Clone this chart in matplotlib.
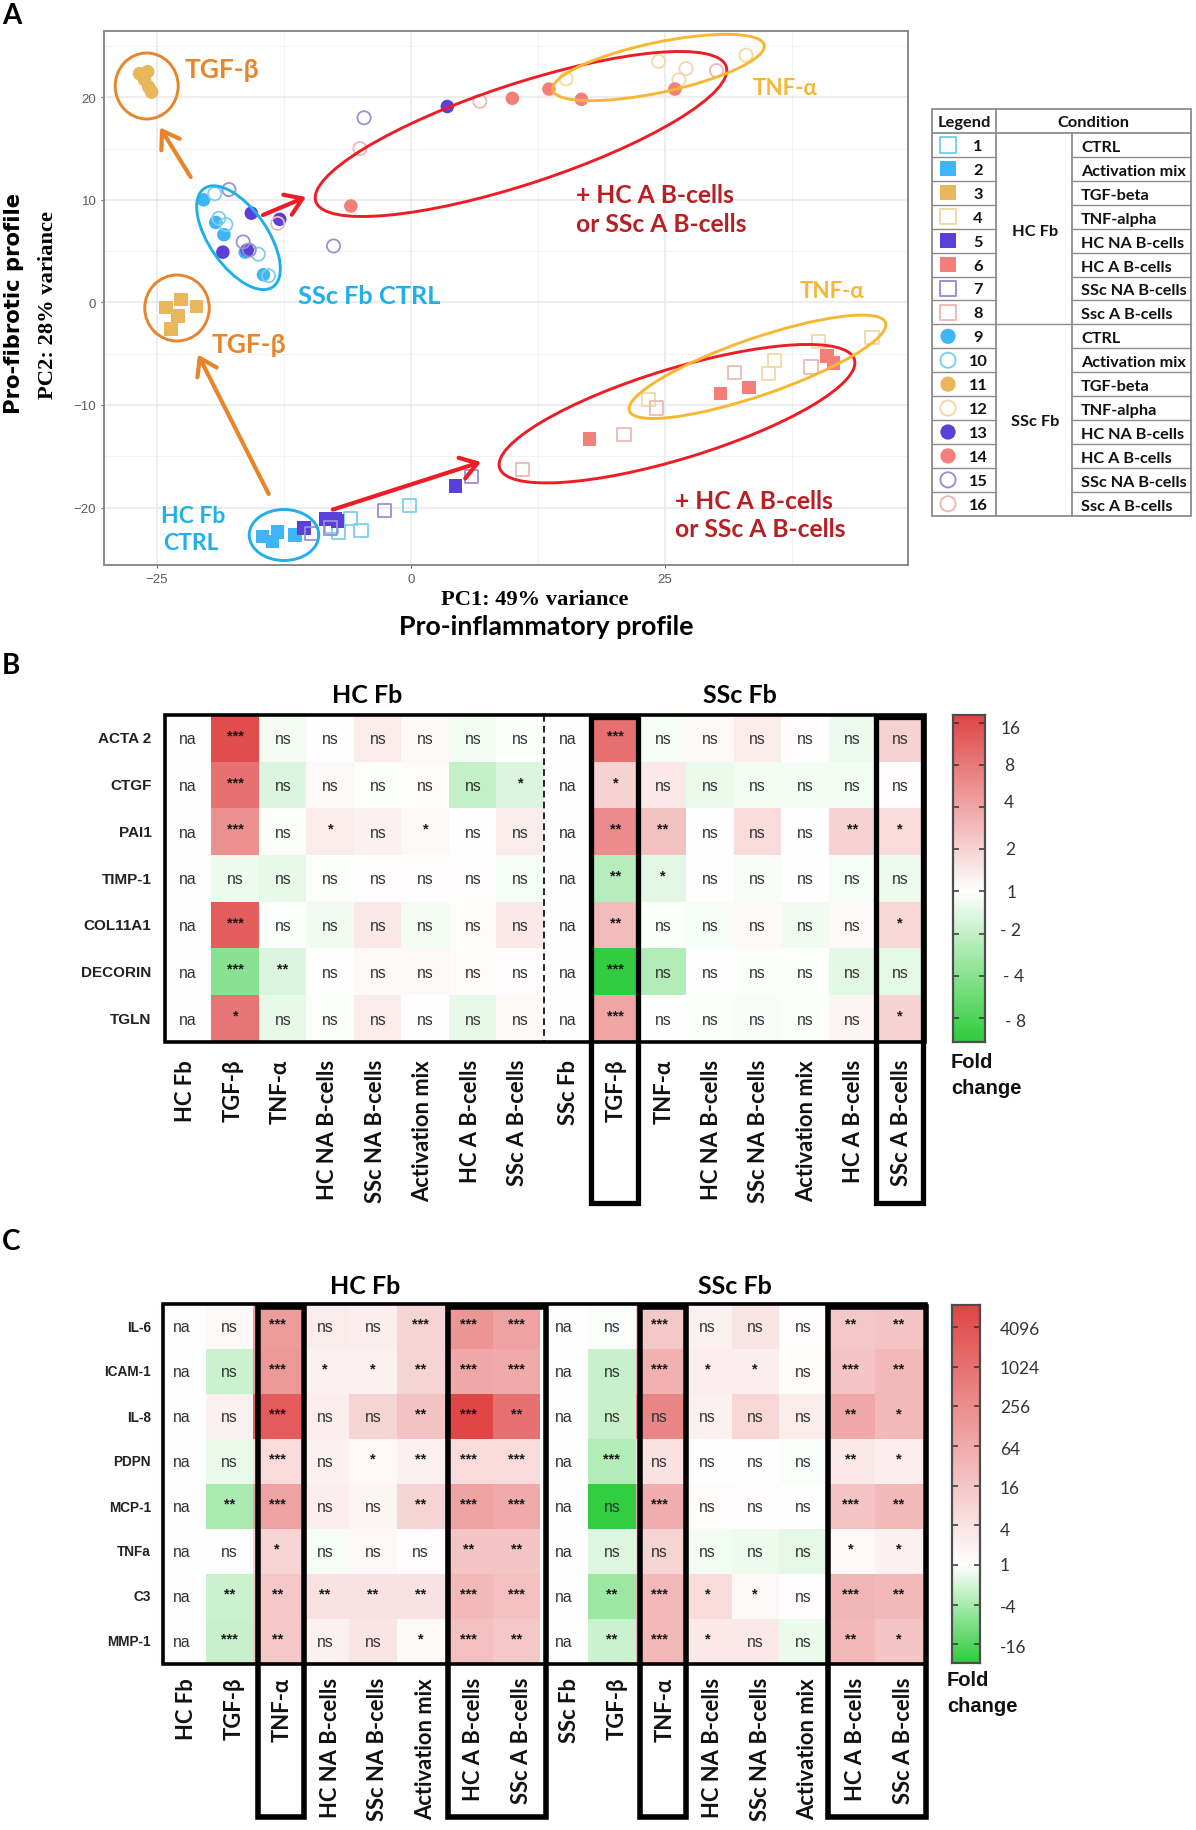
import numpy as np
import matplotlib
matplotlib.use("Agg")
import matplotlib.pyplot as plt
from matplotlib.colors import LinearSegmentedColormap, TwoSlopeNorm
from matplotlib.patches import Ellipse, Rectangle, FancyArrowPatch

W, H = 1196, 1831
plt.rcParams['font.family'] = ['Liberation Sans', 'DejaVu Sans']

# ---------- Panel A data (PC1, PC2) ----------
ctrl_hc_x = [-5.9, -4.9, -7.1, -7.8, -0.1];        ctrl_hc_y = [-21.1, -22.2, -22.4, -21.8, -19.8]
act_hc_x = [-14.6, -13.6, -13.1, -11.4];           act_hc_y = [-22.8, -23.3, -22.4, -22.7]
tgf_hc_x = [-24.1, -22.6, -21.1, -22.9, -23.6];    tgf_hc_y = [-0.5, 0.3, -0.4, -1.3, -2.6]
tnf_hc_x = [23.4, 35.2, 35.8, 40.1, 45.4];         tnf_hc_y = [-9.5, -6.9, -5.7, -3.8, -3.4]
hcna_hc_x = [-10.5, -8.4, -7.4, -7.2, 4.4];        hcna_hc_y = [-22, -21.1, -21.1, -21.3, -17.9]
hca_hc_x = [17.6, 30.5, 33.3, 41, 41.6];           hca_hc_y = [-13.3, -8.9, -8.3, -5.2, -5.9]
sscna_hc_x = [-9.8, -7.9, -2.6, 6];                sscna_hc_y = [-22.5, -22, -20.3, -17]
ssca_hc_x = [11, 21, 24.2, 31.9, 39.4];            ssca_hc_y = [-16.3, -12.9, -10.3, -6.8, -6.3]

ctrl_ssc_x = [-20.4, -19.2, -18.4, -16.3, -14.5];  ctrl_ssc_y = [10, 7.8, 6.6, 4.9, 2.7]
act_ssc_x = [-19.3, -18.9, -18.2, -15, -14];       act_ssc_y = [10.6, 8.2, 7.6, 4.7, 2.6]
tgf_ssc_x = [-26.7, -25.9, -26.2, -25.8, -25.5];   tgf_ssc_y = [22.3, 22.5, 21.7, 21, 20.5]
tnf_ssc_x = [15.3, 24.4, 26.4, 27.1, 33];          tnf_ssc_y = [21.8, 23.5, 21.7, 22.8, 24.1]
hcna_ssc_x = [-18.5, -16.1, -15.7, -12.9, 3.6];    hcna_ssc_y = [4.9, 5.1, 8.7, 8.1, 19.1]
hca_ssc_x = [-5.9, 10, 13.6, 16.8, 26];            hca_ssc_y = [9.4, 19.9, 20.8, 19.8, 20.8]
sscna_ssc_x = [-17.9, -16.5, -15.9, -7.6, -4.6];   sscna_ssc_y = [11, 5.9, 5.1, 5.5, 18]
ssca_ssc_x = [-13.1, -5, 6.8, 30.1];               ssca_ssc_y = [7.7, 15, 19.6, 22.6]

conditions = ['CTRL', 'Activation mix', 'TGF-beta', 'TNF-alpha', 'HC NA B-cells',
              'HC A B-cells', 'SSc NA B-cells', 'Ssc A B-cells']
hc_colors = ['#7dcff0', '#3db5f7', '#e8b75c', '#f0d9a8', '#5a3fd8', '#f47f78', '#9c8fd8', '#eeb8b8']
ssc_colors = ['#3db5f7', '#7dcff0', '#e8b75c', '#f0d9a8', '#5a3fd8', '#f47f78', '#9c8fd8', '#eeb8b8']
hc_filled = [False, True, True, False, True, True, False, False]
ssc_filled = [True, False, True, False, True, True, False, False]

# ---------- Panel B data (signed log2 fold change) ----------
genes_b = ['ACTA 2', 'CTGF', 'PAI1', 'TIMP-1', 'COL11A1', 'DECORIN', 'TGLN']
columns = ['Fb', 'TGF-β', 'TNF-α', 'HC NA B-cells', 'SSc NA B-cells', 'Activation mix', 'HC A B-cells', 'SSc A B-cells']
b_hc = [[0, 4.0, -0.2, 0.03, 0.45, 0.1, -0.2, -0.08],
        [0, 3.2, -0.6, 0.12, -0.03, 0.08, -1.0, -0.6],
        [0, 2.5, -0.05, 0.4, 0.3, 0.15, -0.02, 0.4],
        [0, -0.3, -0.4, -0.05, 0.05, 0.05, 0.05, -0.15],
        [0, 3.6, -0.03, -0.25, 0.5, -0.2, 0.08, 0.5],
        [0, -2.0, -0.6, 0, 0.1, 0.15, 0.08, 0.05],
        [0, 3.1, -0.4, -0.03, 0.4, 0.03, -0.4, 0.1]]
b_ssc = [[0, 3.2, -0.15, 0.15, 0.4, 0.05, -0.3, 1.0],
         [0, 1.0, 0.5, -0.35, -0.2, -0.2, -0.2, 0.05],
         [0, 2.6, 1.4, 0, 0.8, 0, 1.0, 0.8],
         [0, -1.2, -0.5, 0, -0.1, -0.02, -0.15, -0.3],
         [0, 1.5, -0.05, -0.12, 0.1, -0.25, 0.1, 0.9],
         [0, -3.5, -1.3, 0.02, -0.05, -0.05, -0.5, -0.45],
         [0, 2.0, 0, -0.05, -0.1, -0.05, 0.25, 1.0]]
b_sig_hc = ['na *** ns ns ns ns ns ns', 'na *** ns ns ns ns ns *', 'na *** ns * ns * ns ns',
            'na ns ns ns ns ns ns ns', 'na *** ns ns ns ns ns ns', 'na *** ** ns ns ns ns ns',
            'na * ns ns ns ns ns ns']
b_sig_ssc = ['na *** ns ns ns ns ns ns', 'na * ns ns ns ns ns ns', 'na ** ** ns ns ns ** *',
             'na ** * ns ns ns ns ns', 'na ** ns ns ns ns ns *', 'na *** ns ns ns ns ns ns',
             'na *** ns ns ns ns ns *']
b_ticks = [4, 3, 2, 1, 0, -1, -2, -3]
b_tick_labels = ['16', '8', '4', '2', '1', '- 2', '- 4', '- 8']

# ---------- Panel C data (signed log2 fold change) ----------
genes_c = ['IL-6', 'ICAM-1', 'IL-8', 'PDPN', 'MCP-1', 'TNFa', 'C3', 'MMP-1']
c_hc = [[0, 0.5, 7.0, 1.3, 1.2, 3, 7.5, 6.5],
        [0, -1.2, 7.2, 1, 1, 3, 6.2, 6],
        [0, 1, 11.5, 1.2, 3, 4.2, 13, 10],
        [0, -0.5, 2.5, 1, 0.6, 1, 2.5, 2.5],
        [0, -2, 6.5, 1.2, 0.8, 3, 6.5, 6],
        [0, 0.1, 3, -0.2, 0.6, 0.2, 4, 4],
        [0, -1.2, 3.8, 2, 2, 2, 5, 4.5],
        [0, -1.3, 3.8, 1, 1.8, 0.4, 4.5, 3.8]]
c_ssc = [[0, -0.1, 3.8, 1.0, 1.8, 0.2, 3.8, 4],
         [0, -1.3, 5.5, 1.2, 1.2, 0.3, 4, 5],
         [0, -1.3, 8.5, 1, 2.8, 1.3, 6.2, 5],
         [0, -1.8, 2, 0.1, 0.05, -0.1, 1.5, 1.2],
         [0, -4.8, 5.8, 0.3, 0.2, 0.1, 4, 5],
         [0, -0.8, 3, -0.3, -0.4, -0.6, 0.6, 1],
         [0, -2.3, 5, 2.5, 0.5, 0.2, 5.2, 5],
         [0, -1.2, 5, 1.5, 1.5, -0.5, 5, 4]]
c_sig_hc = ['na ns *** ns ns *** *** ***', 'na ns *** * * ** *** ***', 'na ns *** ns ns ** *** **',
            'na ns *** ns * ** *** ***', 'na ** *** ns ns ** *** ***', 'na ns * ns ns ns ** **',
            'na ** ** ** ** ** *** ***', 'na *** ** ns ns * *** **']
c_sig_ssc = ['na ns *** ns ns ns ** **', 'na ns *** * * ns *** **', 'na ns ns ns ns ns ** *',
             'na *** ns ns ns ns ** *', 'na ns *** ns ns ns *** **', 'na ns ns ns ns ns * *',
             'na ** *** * * ns *** **', 'na ** *** * ns ns ** *']
c_ticks = [12, 10, 8, 6, 4, 2, 0, -2, -4]
c_tick_labels = ['4096', '1024', '256', '64', '16', '4', '1', '-4', '-16']

# ---------- helpers ----------
fig = plt.figure(figsize=(W / 100, H / 100), dpi=100, facecolor='white')
CAL = ['Lato', 'DejaVu Sans']
SER = ['Liberation Serif', 'DejaVu Serif']


def axpx(x0, y0, x1, y1, **kw):
    return fig.add_axes([x0 / W, 1 - y1 / H, (x1 - x0) / W, (y1 - y0) / H], **kw)


cmap = LinearSegmentedColormap.from_list('gwr', ['#2ecc3c', '#ffffff', '#e04646'])

# ---------- Panel A ----------
ax = axpx(104, 32, 908, 566)
ax.set_xlim(-30.2, 48.95)
ax.set_ylim(-25.6, 26.46)
ax.set_xticks([-25, 0, 25])
ax.set_yticks([-20, -10, 0, 10, 20])
ax.set_xticks([-12.5, 12.5, 37.5], minor=True)
ax.set_yticks([-15, -5, 5, 15, 25], minor=True)
ax.grid(True, which='major', color='#e8e8e8', lw=1.1)
ax.grid(True, which='minor', color='#f0f0f0', lw=0.6)
ax.set_axisbelow(True)
ax.tick_params(which='minor', length=0)
ax.tick_params(which='major', length=2.5, width=0.7, color='#555555', labelsize=9.5,
               labelcolor='#5a5a5a', pad=3)
for s in ax.spines.values():
    s.set_color('#8a8a8a')
    s.set_linewidth(1.4)

series_hc = [(ctrl_hc_x, ctrl_hc_y), (act_hc_x, act_hc_y), (tgf_hc_x, tgf_hc_y), (tnf_hc_x, tnf_hc_y),
             (hcna_hc_x, hcna_hc_y), (hca_hc_x, hca_hc_y), (sscna_hc_x, sscna_hc_y), (ssca_hc_x, ssca_hc_y)]
series_ssc = [(ctrl_ssc_x, ctrl_ssc_y), (act_ssc_x, act_ssc_y), (tgf_ssc_x, tgf_ssc_y), (tnf_ssc_x, tnf_ssc_y),
              (hcna_ssc_x, hcna_ssc_y), (hca_ssc_x, hca_ssc_y), (sscna_ssc_x, sscna_ssc_y), (ssca_ssc_x, ssca_ssc_y)]
for marker, series, cols, fills in (('s', series_hc, hc_colors, hc_filled), ('o', series_ssc, ssc_colors, ssc_filled)):
    for (xs, ys), col, fil in zip(series, cols, fills):
        ax.scatter(xs, ys, marker=marker, s=95 if fil else 90,
                   facecolors=col if fil else 'none', edgecolors=col if not fil else 'none',
                   linewidths=1.3, zorder=3)

ov = fig.add_axes([0, 0, 1, 1], zorder=20)
ov.set_xlim(0, W)
ov.set_ylim(H, 0)
ov.axis('off')
ov.patch.set_alpha(0)

ORANGE, RED, YEL, BLUE, DRED = '#e8842a', '#ee1c25', '#f7b733', '#1fb0e8', '#b81e22'
ellipses = [((146.7, 87), 63, 66, 0, ORANGE), ((177, 309), 64.5, 66, 0, ORANGE),
            ((521, 135), 432, 100, -18.2, RED), ((658.5, 68.5), 216, 50, -12, YEL),
            ((238.5, 238.7), 120, 58, 55, BLUE), ((284, 536), 69.6, 51, 0, BLUE),
            ((677, 414.7), 371, 90, -17, RED), ((757.5, 367.8), 271, 57, -19, YEL)]
for c, w, h, ang, col in ellipses:
    ov.add_patch(Ellipse(c, w, h, angle=ang, fill=False, edgecolor=col, lw=2.1))
arrows = [((190.7, 178), (160, 128.5), ORANGE), ((268.7, 495), (198, 355.6), ORANGE),
          ((263, 216), (306, 198), RED), ((332.7, 510.6), (481, 463), RED)]
for a, b, col in arrows:
    ov.add_patch(FancyArrowPatch(a, b, arrowstyle='->,head_length=9,head_width=6', color=col,
                                 lw=3, shrinkA=0, shrinkB=0, mutation_scale=1.3))


def t(x, y, s, fs, col='black', family=CAL, weight='bold', ha='left', va='center', **kw):
    return ov.text(x, y, s, fontsize=fs, color=col, family=family, fontweight=weight, ha=ha, va=va, **kw)


t(185, 70, 'TGF-β', 19, ORANGE)
t(212, 345, 'TGF-β', 19, ORANGE)
t(753, 88, 'TNF-α', 16, YEL)
t(800, 291, 'TNF-α', 16, YEL)
t(575.5, 195.6, '+ HC A B-cells', 17.7, DRED)
t(575.5, 224, 'or SSc A B-cells', 17.7, DRED)
t(675, 501.5, '+ HC A B-cells', 17.7, DRED)
t(675, 529, 'or SSc A B-cells', 17.7, DRED)
t(298, 296, 'SSc Fb CTRL', 18.3, BLUE)
t(161, 516, 'HC Fb', 16.5, BLUE)
t(163, 543, 'CTRL', 16.5, BLUE)
t(2, 16, 'A', 20)
t(2, 666, 'B', 20)
t(2, 1242, 'C', 20)
t(535, 600, 'PC1: 49% variance', 16.2, family=SER, ha='center')
t(546, 627, 'Pro-inflammatory profile', 19.3, ha='center')
t(48, 305, 'PC2: 28% variance', 16.2, family=SER, ha='center', rotation=90)
t(14.5, 303, 'Pro-fibrotic profile', 15.2, family=['DejaVu Sans'], ha='center', rotation=90)

# ---------- Legend table ----------
LX = [932, 996, 1071.7, 1190.7]
LY0, LY1, LROW = 110, 134, 23.92
GR = '#8c8c8c'
bottom = LY1 + 16 * LROW
ov.add_patch(Rectangle((LX[0], LY0), LX[3] - LX[0], bottom - LY0, fill=False, edgecolor=GR, lw=1.3))
ov.plot([LX[1], LX[1]], [LY0, bottom], color=GR, lw=1.3)
ov.plot([LX[2], LX[2]], [LY1, bottom], color=GR, lw=1.3)
ov.plot([LX[0], LX[3]], [LY1, LY1], color=GR, lw=1.3)
ov.plot([LX[1], LX[2]], [LY1 + 8 * LROW] * 2, color=GR, lw=1.0)
t(964, 123, 'Legend', 11.8, '#111111', ha='center')
t(1093, 123, 'Condition', 11.8, '#111111', ha='center')
t(1035, 231.5, 'HC Fb', 11.8, '#111111', ha='center')
t(1035, 422, 'SSc Fb', 11.8, '#111111', ha='center')
for i in range(16):
    ytop = LY1 + i * LROW
    yc = ytop + LROW / 2
    if i > 0:
        ov.plot([LX[0], LX[1]], [ytop, ytop], color=GR, lw=1.0)
        ov.plot([LX[2], LX[3]], [ytop, ytop], color=GR, lw=1.0)
    k = i % 8
    fil = (hc_filled if i < 8 else ssc_filled)[k]
    col = (hc_colors if i < 8 else ssc_colors)[k]
    ov.scatter([948], [yc], marker='s' if i < 8 else 'o', s=120,
               facecolors=col if fil else 'none', edgecolors='none' if fil else col, linewidths=1.4)
    t(978, yc + 1, str(i + 1), 11.8, '#111111', ha='center')
    t(1081, yc + 2, conditions[k], 11.7, '#111111')


# ---------- Heatmaps ----------
def heatmap(x0, x1, y0, y1, hc, ssc, sig_hc, sig_ssc, genes, vmin, vmax, label_fs, label_x):
    data = np.hstack([np.array(hc, float), np.array(ssc, float)])
    sig = [a.split() + b.split() for a, b in zip(sig_hc, sig_ssc)]
    a = axpx(x0, y0, x1, y1)
    norm = TwoSlopeNorm(vmin=vmin, vcenter=0, vmax=vmax)
    a.imshow(data, cmap=cmap, norm=norm, aspect='auto', interpolation='nearest',
             extent=(-0.5, 15.5, len(genes) - 0.5, -0.5))
    a.axis('off')
    rh = (y1 - y0) / len(genes)
    for r, row in enumerate(sig):
        for c, s in enumerate(row):
            if '*' in s:
                a.text(c, r - 3.0 / rh, s, ha='center', va='center', fontsize=10.5, fontweight='bold',
                       color='#1a1a1a')
            else:
                a.text(c, r + 0.5 / rh, s, ha='center', va='center', fontsize=11.3, color='#333333')
        t(label_x, y0 + (r + 0.5) * rh, genes[r], label_fs, '#222222', family=['Liberation Sans'], ha='right')
    return a


def colorbar(x0, x1, y0, y1, vmin, vmax, ticks):
    a = axpx(x0, y0, x1, y1)
    vals = np.linspace(vmax, vmin, 400).reshape(-1, 1)
    a.imshow(vals, cmap=cmap, norm=TwoSlopeNorm(vmin=vmin, vcenter=0, vmax=vmax), aspect='auto',
             extent=(0, 1, vmin, vmax), interpolation='bilinear')
    a.set_xticks([])
    a.set_yticks(ticks)
    a.tick_params(axis='y', direction='in', length=4.5, width=1.1, left=True, right=True,
                  labelleft=False, color='#333333')
    for s in a.spines.values():
        s.set_color('#4d4d4d')
        s.set_linewidth(1.6)


# Panel B
heatmap(164.2, 924, 716, 1043, b_hc, b_ssc, b_sig_hc, b_sig_ssc, genes_b, -3.57, 4.18, 11, 151.5)
colorbar(953, 985, 716, 1043, -3.57, 4.18, b_ticks)
ov.add_patch(Rectangle((164.5, 716), 760, 327, fill=False, edgecolor='black', lw=2.6))
ov.plot([544.2, 544.2], [716, 1042], color='black', lw=1.2, ls=(0, (4, 2.5)))
for xa, xb in ((590.5, 637.5), (875.5, 922.5)):
    ov.add_patch(Rectangle((xa, 718), xb - xa, 1204 - 718, fill=False, edgecolor='black', lw=3.8))
bcols = ['HC Fb'] + columns[1:] + ['SSc Fb'] + columns[1:]
for i, lab in enumerate(bcols):
    dx = -2.5 if i < 8 else 1
    t(164.2 + 47.5 * (i + 0.5) + dx, 1060, lab, 15.8, '#111111', ha='center', va='top', rotation=90)
t(366.7, 695, 'HC Fb', 18, ha='center')
t(740, 695, 'SSc Fb', 18, ha='center')
for lab, xc, yc in zip(b_tick_labels, [1011, 1009, 1009, 1010, 1012, 1011, 1014, 1016],
                       [729, 766, 803, 850, 893, 931, 977, 1022]):
    t(xc, yc, lab, 12.5, '#333333', weight='normal', ha='center')
t(951, 1062, 'Fold', 14.5, '#111111', family=['Liberation Sans'])
t(951, 1088, 'change', 14.5, '#111111', family=['Liberation Sans'])

# Panel C
heatmap(157.8, 922.6, 1305, 1665, c_hc, c_ssc, c_sig_hc, c_sig_ssc, genes_c, -4.94, 13.1, 9.8, 151)
colorbar(952, 980, 1306, 1664, -4.94, 13.1, c_ticks)
ov.add_patch(Rectangle((163, 1305), 763, 360, fill=False, edgecolor='black', lw=2.6))
for xa, xb in ((258, 303.5), (447.5, 546), (639.5, 686), (827.5, 926)):
    ov.add_patch(Rectangle((xa, 1308), xb - xa, 1818 - 1308, fill=False, edgecolor='black', lw=4))
for i, lab in enumerate(bcols):
    t(186.7 + 47.8 * i, 1678, lab, 15.8, '#111111', ha='center', va='top', rotation=90)
t(365, 1287, 'HC Fb', 18, ha='center')
t(735, 1287, 'SSc Fb', 18, ha='center')
for lab, yc in zip(c_tick_labels, [1330, 1369, 1408, 1450, 1489, 1531, 1566, 1608, 1648]):
    t(1000, yc, lab, 12.5, '#333333', weight='normal')
t(947, 1681, 'Fold', 14.5, '#111111', family=['Liberation Sans'])
t(947, 1707, 'change', 14.5, '#111111', family=['Liberation Sans'])

fig.savefig('out.png', dpi=100, facecolor='white')
